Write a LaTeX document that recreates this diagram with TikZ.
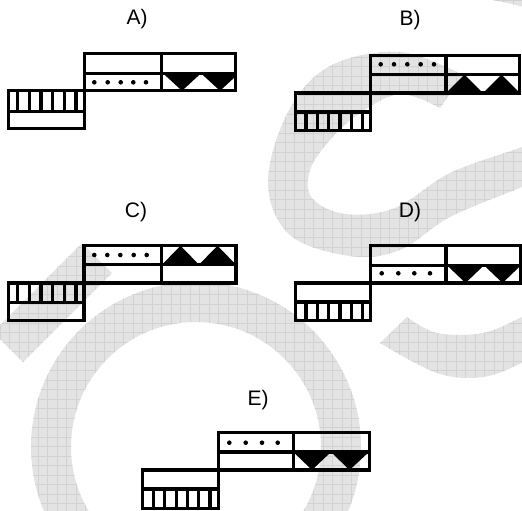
\documentclass[tikz,border=0pt]{standalone}
\usepackage{fontspec}
\setmainfont{Liberation Sans}
\definecolor{wmfill}{HTML}{E3E3E3}
\definecolor{wmgrid}{HTML}{D2D2D2}
\newcommand\wmlines{%
  \foreach \g in {0,9.5,...,530} {%
    \draw[wmgrid, line width=0.5pt] (\g,-5) -- (\g,520);
    \draw[wmgrid, line width=0.5pt] (-5,\g) -- (530,\g);}}
\tikzset{
  frame/.style={line width=3.2pt, line join=miter},
  blk/.style={fill=black},
  dotmark/.style={fill=black},
  lbl/.style={font=\fontsize{21}{21}\selectfont, anchor=base, inner sep=0pt},
}
\begin{document}
\begin{tikzpicture}[x=1pt,y=-1pt]
\useasboundingbox (0,0) rectangle (522,511);
\fill[white] (0,0) rectangle (522,511);

% ---------- watermark ----------
\begin{scope}[even odd rule]
  \path[clip] (196,447) circle[radius=165] (196,447) circle[radius=125];
  \fill[wmfill] (-5,-5) rectangle (530,520);
  \wmlines
\end{scope}
\begin{scope}
  \clip (82,243) -- (112,273) -- (23,362) -- (-7,332) -- cycle;
  \fill[wmfill] (-5,-5) rectangle (530,520);
  \wmlines
\end{scope}
\begin{scope}
  \clip plot[smooth, tension=0.6] coordinates {(463,75) (400,52) (330,66) (288,112) (268,183) (290,235) (350,256) (400,250) (450,217) (522,187) (545,176)}
     -- plot[smooth, tension=0.6] coordinates {(545,136) (522,147) (450,173) (395,208) (345,214) (312,198) (310,170) (330,140) (360,113) (400,94) (440,108)} -- cycle;
  \fill[wmfill] (-5,-5) rectangle (530,520);
  \wmlines
\end{scope}
\begin{scope}
  \clip plot[smooth, tension=0.6] coordinates {(407,317) (437,333) (483,333) (522,317) (545,305)}
     -- plot[smooth, tension=0.6] coordinates {(545,352) (522,363) (483,377) (437,373) (380,343)} -- cycle;
  \fill[wmfill] (-5,-5) rectangle (530,520);
  \wmlines
\end{scope}
\begin{scope}
  \clip plot[smooth] coordinates {(488,-1) (505,2.5) (524,7)} -- (524,-1) -- cycle;
  \fill[wmfill] (480,-5) rectangle (530,20);
  \wmlines
\end{scope}

% ---------- labels ----------
\node[lbl] (la) at (137,25) {A)};
\node[lbl] (lb) at (410,26) {B)};
\node[lbl] (lc) at (136,217) {C)};
\node[lbl] (ld) at (410,217) {D)};
\node[lbl] (le) at (258,405) {E)};

% ---------- A ----------
\begin{scope}
  \clip (161.3,73.3) rectangle (235.3,90.8);
  \fill[blk] (163,73.3) -- (182,90.8) -- (201,73.3) -- cycle
             (201,73.3) -- (220,90.8) -- (239,73.3) -- cycle;
\end{scope}
\foreach \d in {94.3,107.7,120.7,133.3,146} \fill[dotmark] (\d,82.3) circle[radius=2.3];
\draw[frame] (8.7,90.8) rectangle (84.7,128.7);
\draw[frame] (8.7,111.3) -- (84.7,111.3);
\foreach \s in {17.3,29.3,41,52.7,64.3,76} \draw[frame] (\s,90.8) -- (\s,111.3);
\draw[frame] (84.7,53.7) rectangle (235.3,90.8);
\draw[frame] (84.7,73.3) -- (235.3,73.3);
\draw[frame] (161.3,53.7) -- (161.3,90.8);

% ---------- B ----------
\begin{scope}
  \clip (446,74.7) rectangle (519.3,93);
  \fill[blk] (446,93) -- (464.5,74.7) -- (483,93) -- cycle
             (483,93) -- (501.5,74.7) -- (520,93) -- cycle;
\end{scope}
\foreach \d in {380.7,394,407.3,420.7,434} \fill[dotmark] (\d,64.3) circle[radius=2.3];
\draw[frame] (295.3,93) rectangle (370.7,130.7);
\draw[frame] (295.3,112) -- (370.7,112);
\foreach \s in {306,317.3,328.7,340,351.3,362.7} \draw[frame] (\s,112) -- (\s,130.7);
\draw[frame] (370.7,55.7) rectangle (519.3,93);
\draw[frame] (370.7,74.7) -- (519.3,74.7);
\draw[frame] (446,55.7) -- (446,93);

% ---------- C ----------
\begin{scope}
  \clip (161.3,245.7) rectangle (236,264.7);
  \fill[blk] (162,264.7) -- (180.5,245.7) -- (199,264.7) -- cycle
             (199,264.7) -- (217.5,245.7) -- (236,264.7) -- cycle;
\end{scope}
\foreach \d in {94.3,107.3,120.3,133.7,146.7} \fill[dotmark] (\d,255) circle[radius=2.3];
\draw[frame] (8.7,283) rectangle (84,320.7);
\draw[frame] (8.7,302.7) -- (84,302.7);
\foreach \s in {17.3,29.3,41,52.7,64.3,76} \draw[frame] (\s,283) -- (\s,302.7);
\draw[frame] (84,245.7) rectangle (236,283);
\draw[frame] (84,264.7) -- (236,264.7);
\draw[frame] (161.3,245.7) -- (161.3,283);

% ---------- D ----------
\begin{scope}
  \clip (446,265.3) rectangle (520.7,283);
  \fill[blk] (447,265.3) -- (465.5,283) -- (484,265.3) -- cycle
             (484,265.3) -- (502.5,283) -- (521,265.3) -- cycle;
\end{scope}
\foreach \d in {381.7,398.3,414.3,430} \fill[dotmark] (\d,273.3) circle[radius=2.3];
\draw[frame] (295.3,283) rectangle (370.7,320.7);
\draw[frame] (295.3,302) -- (370.7,302);
\foreach \s in {306,317.3,328.7,340,351.3,362.7} \draw[frame] (\s,302) -- (\s,320.7);
\draw[frame] (370.7,245.7) rectangle (520.7,283);
\draw[frame] (370.7,265.3) -- (520.7,265.3);
\draw[frame] (446,245.7) -- (446,283);

% ---------- E ----------
\begin{scope}
  \clip (293.3,452) rectangle (369.3,470);
  \fill[blk] (293.3,452) -- (312,470) -- (331,452) -- cycle
             (331,452) -- (349.5,470) -- (369,452) -- cycle;
\end{scope}
\foreach \d in {229.3,245.7,262,277.7} \fill[dotmark] (\d,442.7) circle[radius=2.3];
\draw[frame] (142.3,470) rectangle (218.7,508.7);
\draw[frame] (142.3,489) -- (218.7,489);
\foreach \s in {153.5,164.8,176.1,187.4,198.7,210} \draw[frame] (\s,489) -- (\s,508.7);
\draw[frame] (218.7,432.3) rectangle (369.3,470);
\draw[frame] (218.7,452) -- (369.3,452);
\draw[frame] (293.3,432.3) -- (293.3,470);
\end{tikzpicture}
\end{document}
